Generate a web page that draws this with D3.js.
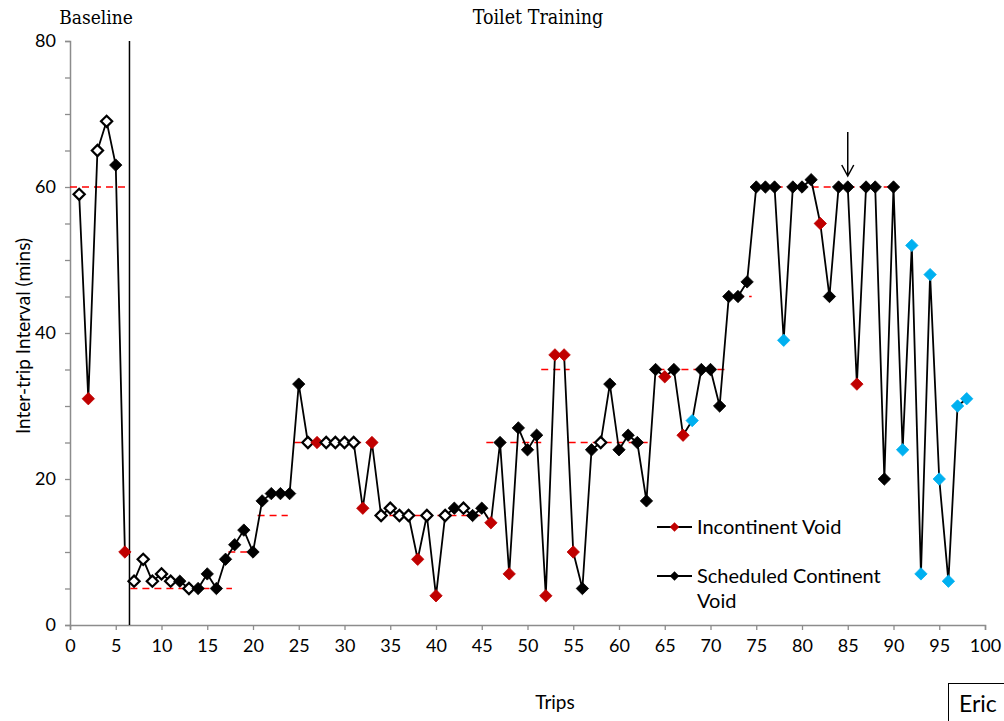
<!DOCTYPE html>
<html><head><meta charset="utf-8">
<script src="https://cdn.jsdelivr.net/npm/d3@7"></script>
<style>body{margin:0;background:#fff;}svg{display:block;}</style>
</head><body>
<svg id="chart" width="1004" height="721"></svg>
<script>
const trips = [1,2,3,4,5,6,7,8,9,10,11,12,13,14,15,16,17,18,19,20,21,22,23,24,25,26,27,28,29,30,31,32,33,34,35,36,37,38,39,40,41,42,43,44,45,46,47,48,49,50,51,52,53,54,55,56,57,58,59,60,61,62,63,64,65,66,67,68,69,70,71,72,73,74,75,76,77,78,79,80,81,82,83,84,85,86,87,88,89,90,91,92,93,94,95,96,97,98];
const intervals = [59,31,65,69,63,10, 6,9,6,7,6,6,5,5,7,5,9,11,13,10,17,18,18,18,33,25,25,25,25,25,25,16,25,15,16,15,15,9,15,4,15,16,16,15,16,14,25,7,27,24,26,4,37,37,10,5,24,25,33,24,26,25,17,35,34,35,26,28,35,35,30,45,45,47,60,60,60,39,60,60,61,55,45,60,60,33,60,60,20,60,24,52,7,48,20,6,30,31];
// o = open (hollow), b = scheduled continent (black), r = incontinent (red), c = blue
const kinds = ["o","r","o","o","b","r", "o","o","o","o","o","b","o","b","b","b","b","b","b","b","b","b","b","b","b","o","r","o","o","o","o","r","r","o","o","o","o","r","o","r","o","b","o","b","b","r","b","r","b","b","b","r","r","r","r","b","b","o","b","b","b","b","b","b","r","b","r","c","b","b","b","b","b","b","b","b","b","c","b","b","b","r","b","b","b","r","b","b","b","b","c","c","c","c","c","c","c","c"];
const phaseOf = trips.map(t => t <= 6 ? 0 : 1);
const critStart = [0, 6.6, 17.3, 20.5, 24.5, 33.6, 45.5, 51.5, 54.5, 64.2, 71.6, 74.5];
const critEnd   = [6.2, 17.7, 20.3, 23.8, 33.6, 45.6, 51.5, 54.6, 63.3, 71.6, 74.5, 90.4];
const critLevel = [60, 5, 10, 15, 25, 15, 25, 35, 25, 35, 45, 60];
const xTicks = [0,5,10,15,20,25,30,35,40,45,50,55,60,65,70,75,80,85,90,95,100];
const yTicks = [0,20,40,60,80];
const yMinor = [0,5,10,15,20,25,30,35,40,45,50,55,60,65,70,75,80];
const phaseChange = 6.5;
const arrowTrip = 85;

const svg = d3.select("#chart");
const x = d3.scaleLinear().domain([0,100]).range([70,985]);
const y = d3.scaleLinear().domain([0,80]).range([625,41]);
const sans = "Lato, 'Open Sans', sans-serif";
const serif = "'DejaVu Serif Condensed','Liberation Serif', serif";
const axisCol = "#8c8c8c";

// axes
const gx = svg.append("g").attr("transform","translate(0,625)")
  .call(d3.axisBottom(x).tickValues(xTicks).tickSize(5).tickPadding(9).tickFormat(d3.format("d")));
const gy = svg.append("g").attr("transform","translate(70,0)")
  .call(d3.axisLeft(y).tickValues(yMinor).tickSize(5).tickPadding(9).tickFormat(d => yTicks.includes(d) ? d : ""));
[gx,gy].forEach(g => {
  g.select(".domain").attr("stroke",axisCol).attr("stroke-width",1.5);
  g.selectAll(".tick line").attr("stroke",axisCol).attr("stroke-width",1.3);
  g.selectAll(".tick text").attr("fill","#000").style("font-family",sans).style("font-size","18px");
});

// criterion dashed lines
svg.append("g").selectAll("line").data(critLevel).join("line")
  .attr("x1",(d,i)=>x(critStart[i])).attr("x2",(d,i)=>x(critEnd[i]))
  .attr("y1",d=>y(d)).attr("y2",d=>y(d))
  .attr("stroke","#ff0000").attr("stroke-width",1.6).attr("stroke-dasharray","7,5");

// phase change line
svg.append("line").attr("x1",x(phaseChange)).attr("x2",x(phaseChange))
  .attr("y1",y(80)).attr("y2",y(0)).attr("stroke","#000").attr("stroke-width",1.5);

// data line (broken at phase change)
const pts = trips.map((t,i)=>({t, v:intervals[i], k:kinds[i], p:phaseOf[i]}));
const line = d3.line().x(d=>x(d.t)).y(d=>y(d.v));
[0,1].forEach(ph => {
  svg.append("path").datum(pts.filter(d=>d.p===ph)).attr("d",line)
    .attr("fill","none").attr("stroke","#000").attr("stroke-width",1.8);
});

// markers
const fillOf = {o:"#fff", b:"#000", r:"#c00000", c:"#00b0f0"};
const strokeOf = {o:"#000", b:"#000", r:"#c00000", c:"#00b0f0"};
const diamond = s => `M0,${-s}L${s},0L0,${s}L${-s},0Z`;
svg.append("g").selectAll("path").data(pts).join("path")
  .attr("transform",d=>`translate(${x(d.t)},${y(d.v)})`)
  .attr("d",d=> d.k==="o" ? diamond(5.6) : diamond(6.2))
  .attr("fill",d=>fillOf[d.k]).attr("stroke",d=>strokeOf[d.k])
  .attr("stroke-width",d=> d.k==="o" ? 2.2 : 0.8);

// arrow
const ax = x(arrowTrip);
svg.append("path").attr("d",`M${ax},132L${ax},176M${ax-6},165L${ax},176L${ax+6},165`)
  .attr("fill","none").attr("stroke","#000").attr("stroke-width",1.5);

// phase labels
svg.append("text").attr("x",96).attr("y",24).attr("text-anchor","middle")
  .style("font-family",serif).style("font-size","19px").text("Baseline");
svg.append("text").attr("x",538).attr("y",24).attr("text-anchor","middle")
  .style("font-family",serif).style("font-size","19.5px").text("Toilet Training");

// axis titles
svg.append("text").attr("x",555).attr("y",709).attr("text-anchor","middle")
  .style("font-family",sans).style("font-size","19px").text("Trips");
svg.append("text").attr("transform","translate(30,336) rotate(-90)").attr("text-anchor","middle")
  .style("font-family",sans).style("font-size","19px").text("Inter-trip Interval (mins)");

// legend
const legend = [{label:["Incontinent Void"], k:"r", yy:527},{label:["Scheduled Continent","Void"], k:"b", yy:576}];
const lg = svg.append("g");
legend.forEach(L => {
  lg.append("line").attr("x1",657).attr("x2",692).attr("y1",L.yy).attr("y2",L.yy).attr("stroke","#000").attr("stroke-width",1.8);
  lg.append("path").attr("transform",`translate(674.5,${L.yy})`).attr("d",diamond(4.8)).attr("fill",fillOf[L.k]);
  L.label.forEach((s,j)=>{
    lg.append("text").attr("x",697).attr("y",L.yy+7+j*25)
      .style("font-family",sans).style("font-size","20px").text(s);
  });
});

// Eric box
svg.append("rect").attr("x",948.5).attr("y",683.5).attr("width",60).attr("height",45)
  .attr("fill","#fff").attr("stroke","#000").attr("stroke-width",1);
svg.append("text").attr("x",959).attr("y",712)
  .style("font-family",sans).style("font-size","23px").text("Eric");
</script>
</body></html>
